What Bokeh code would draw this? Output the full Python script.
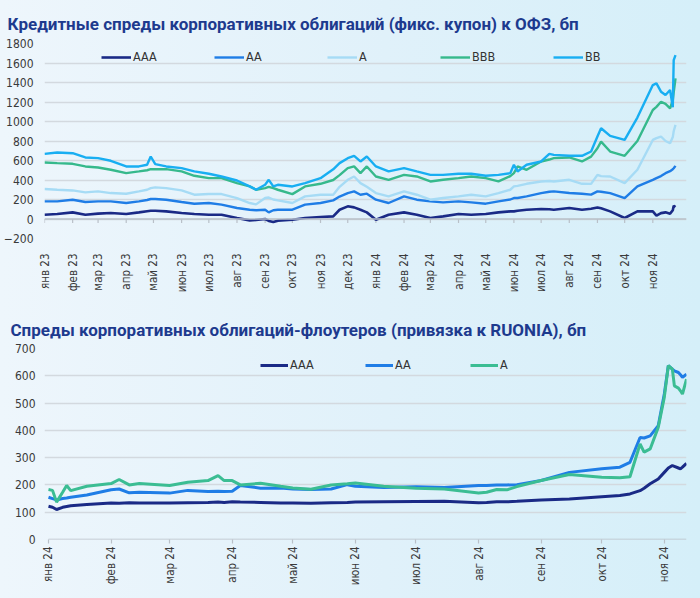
import math
import pandas as pd
from bokeh.plotting import figure
from bokeh.models import FixedTicker, Legend, LegendItem, Span
from bokeh.layouts import column
from bokeh.embed import file_html
from bokeh.resources import INLINE

# ---------------- data: top chart (fixed coupon spreads vs OFZ, bp) ----------------
top_dates = [
    "2023-01-01", "2023-01-15", "2023-02-01", "2023-02-15", "2023-03-01", "2023-03-15", "2023-04-01", "2023-04-15", "2023-04-24", "2023-04-28",
    "2023-05-03", "2023-05-15", "2023-06-01", "2023-06-15", "2023-07-01", "2023-07-15", "2023-08-01", "2023-08-15", "2023-08-22", "2023-09-01",
    "2023-09-05", "2023-09-10", "2023-09-15", "2023-10-01", "2023-10-15", "2023-11-01", "2023-11-15", "2023-11-22", "2023-12-01", "2023-12-08",
    "2023-12-15", "2023-12-22", "2024-01-01", "2024-01-15", "2024-02-01", "2024-02-15", "2024-03-01", "2024-03-15", "2024-04-01", "2024-04-15",
    "2024-05-01", "2024-05-15", "2024-05-28", "2024-06-01", "2024-06-05", "2024-06-15", "2024-07-01", "2024-07-10", "2024-07-15", "2024-08-01",
    "2024-08-15", "2024-08-25", "2024-09-01", "2024-09-05", "2024-09-15", "2024-10-01", "2024-10-15", "2024-11-01", "2024-11-05", "2024-11-10",
    "2024-11-15", "2024-11-20", "2024-11-23", "2024-11-24", "2024-11-26",
]
top_aaa = [44, 51, 68, 44, 55, 61, 51, 68, 80, 85, 85, 78, 61, 51, 44, 44, 10, -14, -10, 0,
           -20, -31, -17, -7, 10, 20, 27, 95, 130, 119, 95, 68, -7, 44, 68, 44, 10, 27, 51, 44,
           51, 68, 78, 78, 85, 95, 102, 100, 95, 113, 95, 105, 119, 110, 78, 10, 78, 78, 34, 60,
           68, 55, 90, 136, 123]
top_aa = [181, 181, 198, 174, 181, 181, 164, 181, 195, 205, 205, 198, 174, 157, 164, 147, 113, 95, 90, 95,
          68, 90, 95, 95, 147, 164, 191, 230, 266, 283, 249, 260, 198, 164, 232, 198, 181, 170, 181, 170,
          157, 181, 200, 215, 215, 232, 266, 280, 283, 266, 259, 250, 283, 280, 266, 215, 334, 402, 420, 440,
          470, 490, 510, 520, 545]
top_a = [307, 300, 293, 273, 283, 266, 259, 283, 300, 317, 324, 317, 293, 249, 256, 256, 215, 164, 150, 215,
         220, 200, 191, 164, 232, 249, 249, 330, 402, 436, 368, 330, 266, 232, 283, 249, 198, 215, 232, 249,
         232, 266, 300, 334, 340, 361, 385, 390, 385, 402, 361, 360, 453, 440, 436, 368, 505, 811, 830, 846,
         800, 777, 840, 900, 965]
top_bbb = [580, 573, 566, 539, 528, 505, 470, 488, 500, 511, 511, 511, 488, 443, 419, 419, 368, 334, 300, 317,
           330, 317, 300, 255, 334, 361, 400, 450, 522, 539, 470, 539, 436, 402, 453, 436, 385, 402, 419, 436,
           419, 385, 440, 470, 539, 505, 590, 610, 624, 631, 590, 640, 726, 794, 692, 648, 800, 1118, 1150, 1203,
           1180, 1135, 1220, 1300, 1442]
top_bb = [668, 682, 675, 631, 624, 597, 539, 539, 556, 641, 563, 539, 522, 488, 464, 436, 395, 334, 300, 351,
          402, 334, 351, 334, 368, 419, 510, 573, 624, 648, 590, 641, 539, 488, 522, 488, 453, 453, 464, 464,
          443, 453, 470, 556, 488, 556, 590, 668, 658, 648, 648, 692, 846, 931, 852, 811, 1040, 1374, 1391, 1306,
          1272, 1323, 1146, 1630, 1681]
top_names = ["AAA", "AA", "A", "BBB", "BB"]
top_tick_labels = ["янв 23", "фев 23", "мар 23", "апр 23", "май 23", "июн 23", "июл 23", "авг 23", "сен 23",
                   "окт 23", "ноя 23", "дек 23", "янв 24", "фев 24", "мар 24", "апр 24", "май 24", "июн 24",
                   "июл 24", "авг 24", "сен 24", "окт 24", "ноя 24"]
top_yticks = [-200, 0, 200, 400, 600, 800, 1000, 1200, 1400, 1600, 1800]

# ---------------- data: bottom chart (floaters vs RUONIA, bp) ----------------
bot_dates = [
    "2024-01-01", "2024-01-03", "2024-01-05", "2024-01-08", "2024-01-10", "2024-01-12", "2024-01-20", "2024-02-01", "2024-02-05", "2024-02-10",
    "2024-02-15", "2024-03-01", "2024-03-10", "2024-03-20", "2024-03-25", "2024-03-28", "2024-04-01", "2024-04-05", "2024-04-15", "2024-04-25",
    "2024-05-01", "2024-05-10", "2024-05-20", "2024-05-28", "2024-06-01", "2024-06-15", "2024-07-01", "2024-07-15", "2024-08-01", "2024-08-05",
    "2024-08-10", "2024-08-15", "2024-08-20", "2024-09-01", "2024-09-15", "2024-10-01", "2024-10-10", "2024-10-15", "2024-10-20", "2024-10-22",
    "2024-10-25", "2024-10-29", "2024-11-01", "2024-11-03", "2024-11-05", "2024-11-06", "2024-11-08", "2024-11-09", "2024-11-10", "2024-11-12",
]
bot_aaa = [122, 118, 110, 118, 121, 124, 128, 134, 133, 135, 134, 134, 135, 136, 137, 136, 138, 137, 136, 134,
           134, 133, 135, 136, 137, 138, 139, 140, 135, 136, 138, 138, 140, 145, 148, 157, 161, 167, 179, 188,
           204, 222, 246, 262, 271, 268, 262, 259, 265, 279]
bot_aa = [155, 150, 145, 150, 152, 155, 163, 182, 185, 171, 173, 170, 180, 176, 177, 176, 177, 198, 188, 189,
          185, 183, 185, 201, 195, 191, 193, 191, 198, 198, 200, 200, 201, 216, 246, 259, 265, 283, 374, 372,
          380, 417, 533, 637, 624, 618, 612, 604, 594, 606]
bot_a = [183, 180, 137, 173, 198, 179, 195, 205, 220, 200, 205, 198, 210, 216, 234, 216, 216, 200, 206, 195,
         189, 184, 200, 204, 207, 195, 188, 185, 170, 173, 183, 182, 194, 216, 238, 228, 226, 230, 350, 320,
         332, 411, 521, 637, 624, 563, 555, 545, 533, 588]
bot_names = ["AAA", "AA", "A"]
bot_tick_labels = ["янв 24", "фев 24", "мар 24", "апр 24", "май 24", "июн 24", "июл 24", "авг 24", "сен 24",
                   "окт 24", "ноя 24"]
bot_yticks = [0, 100, 200, 300, 400, 500, 600, 700]

title_top = "Кредитные спреды корпоративных облигаций (фикс. купон) к ОФЗ, бп"
title_bot = "Спреды корпоративных облигаций-флоутеров (привязка к RUONIA), бп"

# ---------------- helpers ----------------
ORIGIN = pd.Timestamp("2023-01-01")


def days(lst):
    return [int((pd.Timestamp(d) - ORIGIN).days) for d in lst]


TICK_FONT = "'Liberation Sans Narrow', 'DejaVu Sans Condensed', Roboto, sans-serif"
TITLE_FONT = "Roboto"
TITLE_COLOR = "#1d3a8e"
GRID = "#d3d9df"
AXIS = "#b9c0c8"
C_AAA = "#1a2a86"
C_AA = "#1f7de6"
C_A = "#a6dbf5"
C_BBB = "#36b98c"
C_BB = "#18aef2"
C_A2 = "#3bbd93"

# shared frame geometry (px) – both frames span the same horizontal extent
FRAME_L, FRAME_R, W = 43, 686, 700


def style(p, yticks):
    p.background_fill_color = None
    p.border_fill_color = None
    p.outline_line_color = None
    p.xgrid.grid_line_color = None
    p.ygrid.grid_line_color = GRID
    p.ygrid.grid_line_width = 1.5
    p.yaxis.ticker = FixedTicker(ticks=yticks)
    p.yaxis.axis_line_color = None
    p.yaxis.major_tick_line_color = None
    p.yaxis.minor_tick_line_color = None
    p.yaxis.major_tick_out = 0
    p.yaxis.major_tick_in = 0
    p.yaxis.minor_tick_out = 0
    p.yaxis.major_label_text_font = TICK_FONT
    p.yaxis.major_label_text_font_size = "12px"
    p.yaxis.major_label_text_color = "#3a3a3a"
    p.xaxis.minor_tick_line_color = None
    p.xaxis.minor_tick_out = 0
    p.xaxis.major_label_text_font = TICK_FONT
    p.xaxis.major_label_text_font_size = "11.5px"
    p.xaxis.major_label_text_color = "#3a3a3a"
    p.xaxis.major_label_orientation = math.pi / 2
    p.title.text_font = TITLE_FONT
    p.title.text_font_size = "17px"
    p.title.text_font_style = "bold"
    p.title.text_color = TITLE_COLOR
    p.title.align = "left"


# ---------------- top figure ----------------
tx = days(top_dates)
top_ticks = days(pd.date_range("2023-01-01", "2024-11-01", freq="MS").strftime("%Y-%m-%d"))
# data occupies 43..675 px in the reference; frame runs on to 686
top_span = tx[-1] - tx[0]
top_end = tx[-1] + top_span * (FRAME_R - 675) / (675 - FRAME_L)
p1 = figure(width=W, height=295, x_range=(tx[0], top_end), y_range=(top_yticks[0], top_yticks[-1]),
            output_backend="svg", toolbar_location=None,
            min_border_left=FRAME_L, min_border_right=W - FRAME_R, min_border_top=43, min_border_bottom=56)
style(p1, top_yticks)
p1.title.text = title_top
p1.title.offset = -37
p1.title.standoff = 19
p1.yaxis.major_label_standoff = 11
p1.xaxis.ticker = FixedTicker(ticks=top_ticks)
p1.xaxis.major_label_overrides = dict(zip(top_ticks, top_tick_labels))
p1.xaxis.axis_line_color = None
p1.xaxis.major_tick_line_color = None
p1.xaxis.major_label_standoff = 9
p1.add_layout(Span(location=0, dimension="width", line_color=AXIS, line_width=1.5))
p1.segment(x0=top_ticks, y0=[0] * len(top_ticks), x1=top_ticks, y1=[-40] * len(top_ticks),
           line_color=AXIS, line_width=1.2)

items = []
for name, vals, col in zip(top_names, [top_aaa, top_aa, top_a, top_bbb, top_bb],
                           [C_AAA, C_AA, C_A, C_BBB, C_BB]):
    r = p1.line(tx, vals, line_color=col, line_width=2.6 if name == "AAA" else 2.4)
    items.append(LegendItem(label=name, renderers=[r]))
leg1 = Legend(items=items, orientation="horizontal", location=(57, 174),
              background_fill_alpha=0, border_line_color=None, padding=0, margin=0,
              spacing=5, glyph_width=30, glyph_height=14, label_width=76, label_standoff=2,
              label_text_font=TICK_FONT, label_text_font_size="12.5px", label_text_color="#333333")
p1.add_layout(leg1)

# ---------------- bottom figure ----------------
bx = days(bot_dates)
bot_ticks = days(pd.date_range("2024-01-01", "2024-11-01", freq="MS").strftime("%Y-%m-%d"))
# data occupies 47..686 px in the reference; frame starts at 43
bot_span = bx[-1] - bx[0]
bot_start = bx[0] - bot_span * (47 - FRAME_L) / (FRAME_R - 47)
p2 = figure(width=W, height=303, x_range=(bot_start, bx[-1]), y_range=(bot_yticks[0], bot_yticks[-1]),
            output_backend="svg", toolbar_location=None,
            min_border_left=FRAME_L, min_border_right=W - FRAME_R, min_border_top=53, min_border_bottom=59)
style(p2, bot_yticks)
p2.title.text = title_bot
p2.title.offset = -34
p2.title.standoff = 18
p2.yaxis.major_label_standoff = 9
p2.xaxis.ticker = FixedTicker(ticks=bot_ticks)
p2.xaxis.major_label_overrides = dict(zip(bot_ticks, bot_tick_labels))
p2.xaxis.axis_line_color = None
p2.xaxis.major_tick_line_color = AXIS
p2.xaxis.major_tick_line_width = 1.2
p2.xaxis.major_tick_in = 0
p2.xaxis.major_tick_out = 4
p2.xaxis.major_label_standoff = 3
p2.segment(x0=[bx[0]], y0=[0], x1=[bx[-1]], y1=[0], line_color=AXIS, line_width=1.5)

items2 = []
for name, vals, col in zip(bot_names, [bot_aaa, bot_aa, bot_a], [C_AAA, C_AA, C_A2]):
    r = p2.line(bx, vals, line_color=col, line_width=3)
    items2.append(LegendItem(label=name, renderers=[r]))
leg2 = Legend(items=items2, orientation="horizontal", location=(216, 167),
              background_fill_alpha=0, border_line_color=None, padding=0, margin=0,
              spacing=5, glyph_width=28, glyph_height=14, label_width=70, label_standoff=2,
              label_text_font=TICK_FONT, label_text_font_size="12.5px", label_text_color="#333333")
p2.add_layout(leg2)

layout = column(p1, p2, spacing=0,
                styles={"position": "fixed", "left": "0px", "top": "0px",
                        "background": "linear-gradient(90deg, #eef6fc 0%, #e0f1fa 55%, #d5eff9 100%)"})

open("out.html", "w").write(file_html(layout, INLINE))
